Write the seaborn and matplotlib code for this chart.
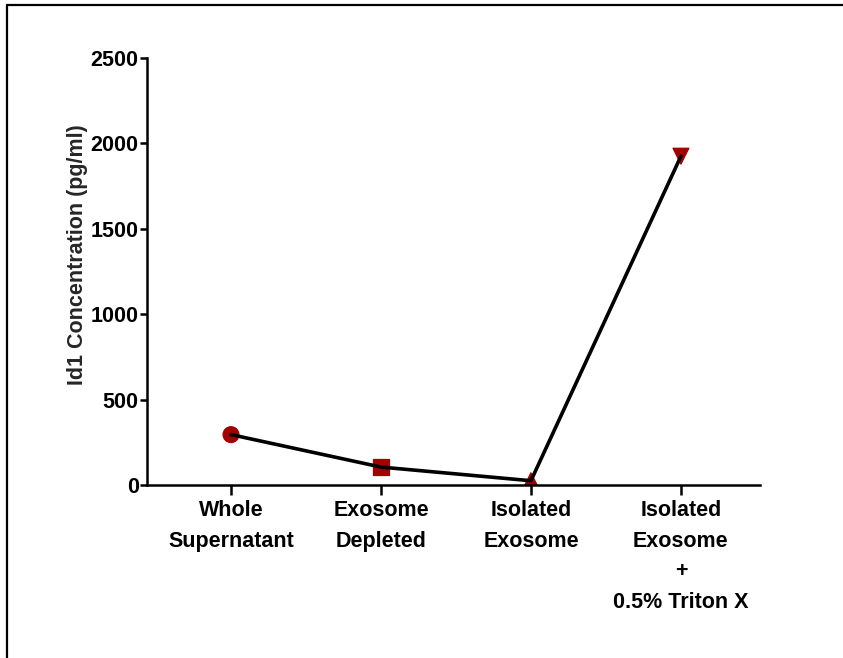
import pandas as pd
import seaborn as sns
import matplotlib.pyplot as plt
from matplotlib.lines import Line2D

categories = ['Whole\nSupernatant', 'Exosome\nDepleted', 'Isolated\nExosome',
              'Isolated\nExosome\n+\n0.5% Triton X']
values = [295, 105, 25, 1925]
marker_shapes = ['o', 's', '^', 'v']
y_ticks = [0, 500, 1000, 1500, 2000, 2500]

df = pd.DataFrame({'sample': categories, 'conc': values})

sns.set_style('ticks')
plt.rcParams['font.family'] = ['Liberation Sans', 'DejaVu Sans']

fig = plt.figure(figsize=(8.43, 6.58), dpi=100)
ax = fig.add_axes([0.1744, 0.2629, 0.7271, 0.649])

red = '#a30000'
sns.scatterplot(data=df, x='sample', y='conc', style='sample',
                markers=dict(zip(categories, marker_shapes)), s=130,
                color=red, edgecolor=red, legend=False, zorder=2, ax=ax)
sns.lineplot(data=df, x='sample', y='conc', color='black', linewidth=2.6,
             sort=False, zorder=3, ax=ax)

ax.set_xlim(-0.56, 3.527)
ax.set_ylim(0, 2500)
ax.set_yticks(y_ticks)
ax.set_yticklabels([str(t) for t in y_ticks], fontsize=15.5, fontweight='bold')
ax.set_xticks(range(len(categories)))
ax.set_xticklabels(categories, fontsize=15.5, fontweight='bold', linespacing=1.6)
ax.set_xlabel('')
ax.set_ylabel('Id1 Concentration (pg/ml)', fontsize=15.5, fontweight='bold', labelpad=2)
ax.yaxis.label.set_y(0.54)

for side in ['top', 'right']:
    ax.spines[side].set_visible(False)
for side in ['left', 'bottom']:
    ax.spines[side].set_linewidth(1.8)
    ax.spines[side].set_color('black')
ax.tick_params(axis='y', direction='out', length=5, width=1.8, colors='black', pad=1)
ax.tick_params(axis='x', direction='out', length=7, width=1.8, colors='black', pad=4)

# outer frame (left and top edges visible)
fig.add_artist(Line2D([7 / 843, 7 / 843], [0, 1 - 5 / 658], transform=fig.transFigure,
                      color='black', linewidth=1.6))
fig.add_artist(Line2D([7 / 843, 1], [1 - 5 / 658, 1 - 5 / 658], transform=fig.transFigure,
                      color='black', linewidth=1.6))

fig.savefig('out.png', dpi=100)
